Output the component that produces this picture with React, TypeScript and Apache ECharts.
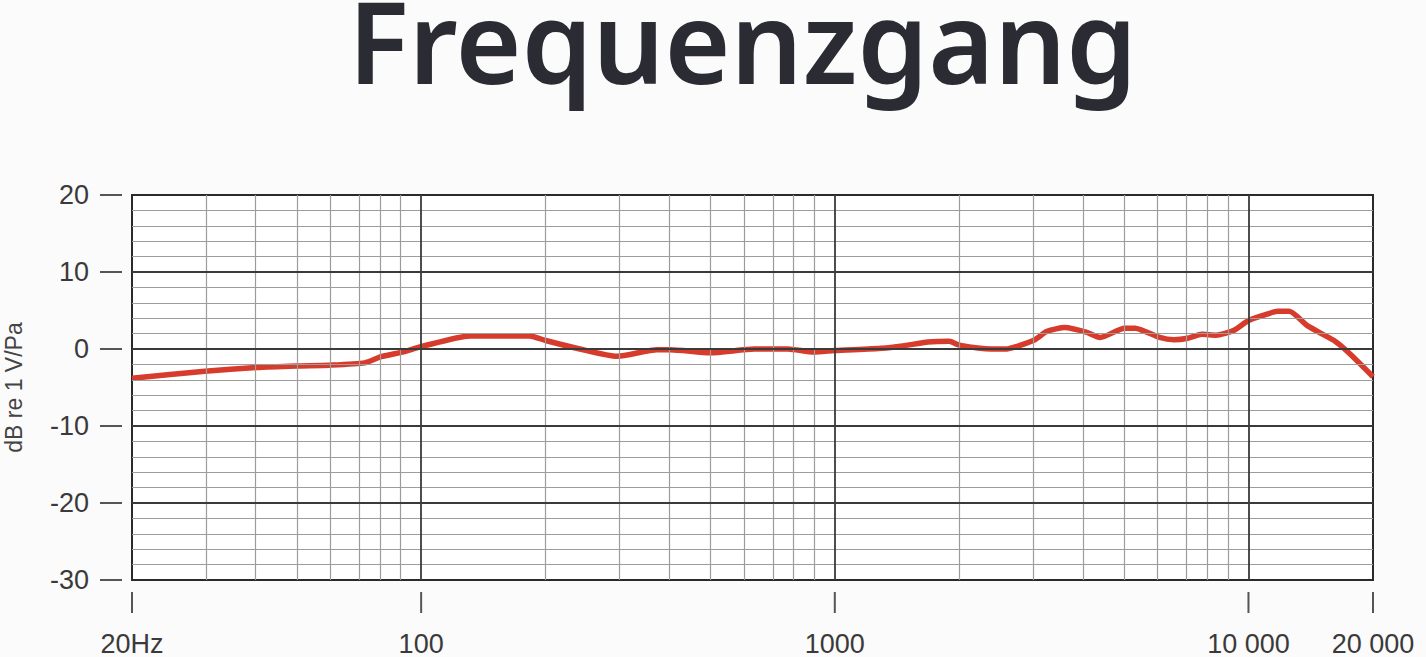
import React, { useEffect, useRef } from "react";
import * as echarts from "echarts";

const titleText = "Frequenzgang";
const yAxisName = "dB re 1 V/Pa";

// Frequency response (Hz, dB)
const freqs = [20, 30, 40, 50, 60, 73, 80, 90, 100, 131, 183, 200, 242, 298, 372, 400, 500, 640, 770, 890, 1000, 1300, 1460, 1680, 1890, 2000, 2390, 2580, 3020, 3260, 3600, 4050, 4380, 5020, 5320, 6100, 6600, 7140, 7710, 8350, 9200, 10000, 10900, 11760, 12550, 13900, 16100, 17400, 20000];
const levels = [-3.8, -2.9, -2.4, -2.2, -2.1, -1.8, -1.0, -0.4, 0.3, 1.7, 1.7, 1.1, 0, -0.95, -0.1, -0.1, -0.5, 0, 0, -0.4, -0.2, 0.1, 0.4, 0.9, 1.0, 0.5, 0, 0, 1.1, 2.3, 2.8, 2.2, 1.5, 2.7, 2.7, 1.5, 1.2, 1.4, 1.9, 1.8, 2.4, 3.7, 4.4, 4.9, 4.9, 3.0, 1.1, -0.4, -3.6];

const xTickFreqs = [20, 100, 1000, 10000, 20000];
const xTickLabels = ["20Hz", "100", "1000", "10 000", "20 000"];
const majorFreqs = [100, 1000, 10000];
const minorFreqs = [30, 40, 50, 60, 70, 80, 90, 200, 300, 400, 500, 600, 700, 800, 900, 2000, 3000, 4000, 5000, 6000, 7000, 8000, 9000];
const majorLevels = [-20, -10, 0, 10];
const minorLevels = [-28, -26, -24, -22, -18, -16, -14, -12, -8, -6, -4, -2, 2, 4, 6, 8, 12, 14, 16, 18];

const lg = (f: number) => Math.log10(f);

export default function App() {
  const ref = useRef<HTMLDivElement>(null);
  useEffect(() => {
    document.body.style.margin = "0";
    document.body.style.background = "#fbfbfb";
    const chart = echarts.init(ref.current!, null, { renderer: "svg" });
    const xTickVals = xTickFreqs.map(lg);
    const minorStyle = { color: "#9c9c9c", width: 1.2, type: "solid" };
    const majorStyle = { color: "#3a3a3a", width: 1.8, type: "solid" };
    const minorLines: any[] = [];
    const majorLines: any[] = [];
    minorFreqs.forEach((f) => minorLines.push({ xAxis: lg(f), lineStyle: minorStyle }));
    minorLevels.forEach((v) => minorLines.push({ yAxis: v, lineStyle: minorStyle }));
    majorFreqs.forEach((f) => majorLines.push({ xAxis: lg(f), lineStyle: majorStyle }));
    majorLevels.forEach((v) => majorLines.push({ yAxis: v, lineStyle: majorStyle }));
    const labelFormatter = (v: number) => {
      let best = 0;
      xTickVals.forEach((t, i) => {
        if (Math.abs(t - v) < Math.abs(xTickVals[best] - v)) best = i;
      });
      return xTickLabels[best];
    };
    chart.setOption({
      animation: false,
      backgroundColor: "#fbfbfb",
      title: {
        text: titleText,
        left: 343,
        top: -22,
        textStyle: {
          fontFamily: "Noto Sans",
          fontSize: 113,
          fontWeight: 600,
          color: "#2b2c33",
        },
      },
      grid: {
        left: 132,
        right: 53,
        top: 195,
        bottom: 77,
        show: true,
        backgroundColor: "#ffffff",
        borderColor: "#2a2a2a",
        borderWidth: 2,
        containLabel: false,
        outerBoundsMode: "none",
      },
      xAxis: {
        type: "value",
        min: lg(20),
        max: lg(20000),
        offset: 12,
        axisLine: { show: false },
        splitLine: { show: false },
        axisTick: { show: false },
        axisLabel: {
          customValues: xTickVals,
          margin: 38,
          fontFamily: "Liberation Sans",
          fontSize: 27,
          color: "#3a3a3a",
          formatter: labelFormatter,
        },
      },
      yAxis: {
        type: "value",
        min: -30,
        max: 20,
        interval: 10,
        offset: 10,
        name: yAxisName,
        nameLocation: "middle",
        nameGap: 97,
        nameTextStyle: { fontFamily: "Liberation Sans", fontSize: 23, color: "#444" },
        axisLine: { show: false },
        axisTick: {
          show: true,
          length: 22,
          lineStyle: { color: "#555", width: 2 },
        },
        axisLabel: {
          margin: 33,
          fontFamily: "Liberation Sans",
          fontSize: 27,
          color: "#3a3a3a",
        },
        splitLine: { show: false },
      },
      series: [
        {
          type: "line",
          z: 1,
          data: [],
          silent: true,
          markLine: {
            silent: true,
            symbol: "none",
            label: { show: false },
            animation: false,
            data: minorLines,
          },
        },
        {
          type: "line",
          z: 2,
          data: [],
          silent: true,
          markLine: {
            silent: true,
            symbol: "none",
            label: { show: false },
            animation: false,
            data: majorLines,
          },
        },
        {
          type: "custom",
          z: 2,
          silent: true,
          clip: false,
          data: xTickVals.map((v) => [v, -30]),
          encode: { x: 0, y: 1 },
          renderItem: (params: any, api: any) => {
            const p = api.coord([api.value(0), api.value(1)]);
            return {
              type: "line",
              shape: { x1: p[0], y1: p[1] + 12, x2: p[0], y2: p[1] + 33 },
              style: { stroke: "#555", lineWidth: 2 },
            };
          },
        },
        {
          type: "line",
          z: 3,
          data: freqs.map((f, i) => [lg(f), levels[i]]),
          showSymbol: false,
          smooth: 0.2,
          lineStyle: { color: "#d63b2c", width: 5.5 },
        },
      ],
    });
    return () => chart.dispose();
  }, []);
  return (
    <div
      ref={ref}
      style={{ position: "absolute", left: 0, top: 0, width: 1426, height: 657, background: "#fbfbfb" }}
    />
  );
}
